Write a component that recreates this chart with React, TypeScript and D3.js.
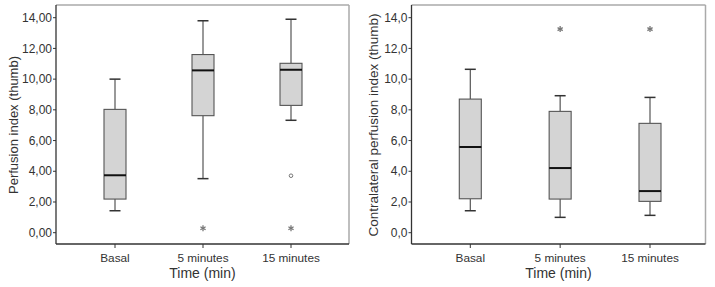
import React from "react";
import * as d3 from "d3";

const categories = ["Basal", "5 minutes", "15 minutes"];
const yTicks = [0, 2, 4, 6, 8, 10, 12, 14];

// Left panel: Perfusion index (thumb)
const leftMin = [1.43, 3.52, 7.32];
const leftQ1 = [2.19, 7.62, 8.29];
const leftMedian = [3.74, 10.57, 10.61];
const leftQ3 = [8.03, 11.6, 11.03];
const leftMax = [10.0, 13.8, 13.9];
const leftOutliers = [{ cat: "15 minutes", value: 3.71 }];
const leftExtremes = [
  { cat: "5 minutes", value: 0.29 },
  { cat: "15 minutes", value: 0.29 },
];

// Right panel: Contralateral perfusion index (thumb)
const rightMin = [1.43, 1.0, 1.13];
const rightQ1 = [2.21, 2.19, 2.04];
const rightMedian = [5.58, 4.21, 2.71];
const rightQ3 = [8.7, 7.9, 7.12];
const rightMax = [10.64, 8.92, 8.81];
const rightOutliers: { cat: string; value: number }[] = [];
const rightExtremes = [
  { cat: "5 minutes", value: 13.26 },
  { cat: "15 minutes", value: 13.26 },
];

const FONT = "Liberation Sans, Arial, sans-serif";

type PanelProps = {
  left: number;
  right: number;
  insetL: number;
  insetR: number;
  yLabel: string;
  yLabelX: number;
  yLabelSize: number;
  decimals: number;
  mins: number[];
  q1: number[];
  med: number[];
  q3: number[];
  maxs: number[];
  outliers: { cat: string; value: number }[];
  extremes: { cat: string; value: number }[];
};

const TOP = 5;
const BOTTOM = 244;

function Panel(p: PanelProps) {
  const y = d3.scaleLinear().domain([0, 14]).range([232.7, 17.7]);
  const x = d3
    .scalePoint<string>()
    .domain(categories)
    .range([p.left + p.insetL, p.right - p.insetR]);
  const fmt = (v: number) => v.toFixed(p.decimals).replace(".", ",");
  const bw = 22;
  const cw = 11;
  const star = (cx: number, cy: number, key: string) => {
    const r = 3;
    const lines = [0, 60, 120].map((a) => {
      const rad = (a * Math.PI) / 180;
      return (
        <line
          key={a}
          x1={cx - r * Math.sin(rad)}
          y1={cy - r * Math.cos(rad)}
          x2={cx + r * Math.sin(rad)}
          y2={cy + r * Math.cos(rad)}
          stroke="#777"
          strokeWidth={1.3}
        />
      );
    });
    return <g key={key}>{lines}</g>;
  };
  return (
    <g>
      {/* frame */}
      <line x1={p.left} x2={p.right} y1={TOP} y2={TOP} stroke="#aaa" strokeWidth={1.5} />
      <line x1={p.right} x2={p.right} y1={TOP} y2={BOTTOM} stroke="#aaa" strokeWidth={1.5} />
      <line x1={p.left} x2={p.left} y1={TOP} y2={BOTTOM} stroke="#333" strokeWidth={1.3} />
      <line x1={p.left} x2={p.right} y1={BOTTOM} y2={BOTTOM} stroke="#333" strokeWidth={1.3} />
      {/* y ticks */}
      {yTicks.map((t) => (
        <g key={t}>
          <line x1={p.left - 3} x2={p.left} y1={y(t)} y2={y(t)} stroke="#333" />
          <text
            x={p.left - 4}
            y={y(t)}
            dy="0.35em"
            textAnchor="end"
            fontSize={12}
            fontFamily={FONT}
            fill="#333"
          >
            {fmt(t)}
          </text>
        </g>
      ))}
      {/* x ticks */}
      {categories.map((c) => (
        <g key={c}>
          <line x1={x(c)} x2={x(c)} y1={BOTTOM} y2={BOTTOM + 4} stroke="#333" />
          <text
            x={x(c)}
            y={261.5}
            textAnchor="middle"
            fontSize={11.8}
            fontFamily={FONT}
            fill="#333"
          >
            {c}
          </text>
        </g>
      ))}
      <text
        x={(p.left + p.right) / 2}
        y={278}
        textAnchor="middle"
        fontSize={14}
        fontFamily={FONT}
        fill="#333"
      >
        Time (min)
      </text>
      <text
        transform={`translate(${p.yLabelX},${125}) rotate(-90)`}
        textAnchor="middle"
        fontSize={p.yLabelSize}
        fontFamily={FONT}
        fill="#333"
      >
        {p.yLabel}
      </text>
      {/* boxes */}
      {categories.map((c, i) => {
        const cx = x(c) as number;
        return (
          <g key={c}>
            <line x1={cx} x2={cx} y1={y(p.maxs[i])} y2={y(p.q3[i])} stroke="#555" strokeWidth={1.2} />
            <line x1={cx} x2={cx} y1={y(p.q1[i])} y2={y(p.mins[i])} stroke="#555" strokeWidth={1.2} />
            <line x1={cx - cw / 2} x2={cx + cw / 2} y1={y(p.maxs[i])} y2={y(p.maxs[i])} stroke="#333" strokeWidth={1.5} />
            <line x1={cx - cw / 2} x2={cx + cw / 2} y1={y(p.mins[i])} y2={y(p.mins[i])} stroke="#333" strokeWidth={1.5} />
            <rect
              x={cx - bw / 2}
              y={y(p.q3[i])}
              width={bw}
              height={y(p.q1[i]) - y(p.q3[i])}
              fill="#d4d4d4"
              stroke="#555"
              strokeWidth={1.1}
            />
            <line x1={cx - bw / 2} x2={cx + bw / 2} y1={y(p.med[i])} y2={y(p.med[i])} stroke="#111" strokeWidth={2} />
          </g>
        );
      })}
      {p.outliers.map((o, i) => (
        <circle key={"o" + i} cx={x(o.cat)} cy={y(o.value)} r={1.8} fill="none" stroke="#777" strokeWidth={1} />
      ))}
      {p.extremes.map((e, i) => star(x(e.cat) as number, y(e.value), "e" + i))}
    </g>
  );
}

export default function App() {
  return (
    <svg
      width={715}
      height={287}
      style={{ position: "absolute", left: 0, top: 0, background: "#fff" }}
    >
      <rect width={715} height={287} fill="#fff" />
      <Panel
        left={56}
        right={349}
        insetL={59}
        insetR={58}
        yLabel="Perfusion index (thumb)"
        yLabelX={17.5}
        yLabelSize={13}
        decimals={2}
        mins={leftMin}
        q1={leftQ1}
        med={leftMedian}
        q3={leftQ3}
        maxs={leftMax}
        outliers={leftOutliers}
        extremes={leftExtremes}
      />
      <Panel
        left={411.5}
        right={705.5}
        insetL={58.8}
        insetR={55.5}
        yLabel="Contralateral perfusion index (thumb)"
        yLabelX={378}
        yLabelSize={13.5}
        decimals={1}
        mins={rightMin}
        q1={rightQ1}
        med={rightMedian}
        q3={rightQ3}
        maxs={rightMax}
        outliers={rightOutliers}
        extremes={rightExtremes}
      />
    </svg>
  );
}
